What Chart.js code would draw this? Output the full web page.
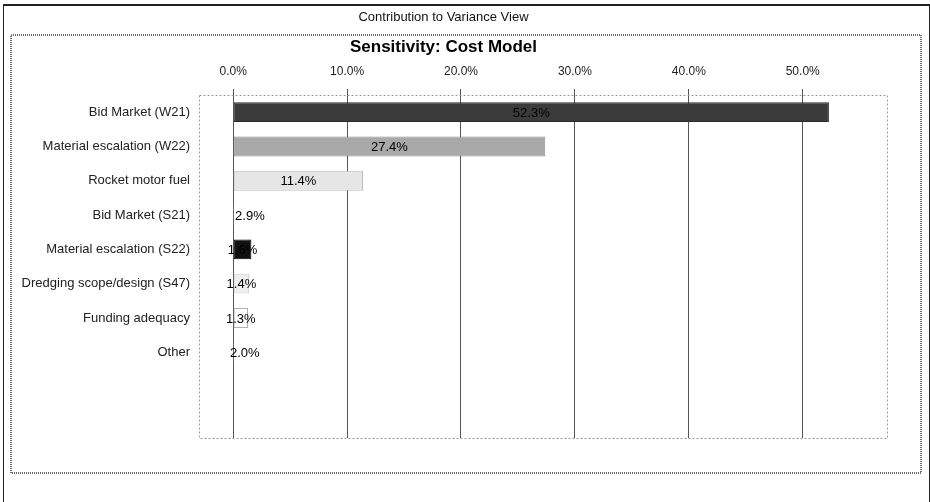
<!DOCTYPE html>
<html>
<head>
<meta charset="utf-8">
<script src="https://cdn.jsdelivr.net/npm/chart.js@4"></script>
<style>
  html, body { margin: 0; padding: 0; background: #fff; }
  #wrap { width: 930px; height: 502px; position: relative; }
</style>
</head>
<body>
<div id="wrap"><canvas id="sensChart"></canvas></div>
<script>
// data
const categories = [
  'Bid Market (W21)',
  'Material escalation (W22)',
  'Rocket motor fuel',
  'Bid Market (S21)',
  'Material escalation (S22)',
  'Dredging scope/design (S47)',
  'Funding adequacy',
  'Other'
];
const contribution = [52.3, 27.4, 11.4, 2.9, 1.6, 1.4, 1.3, 2.0];
const tickValues = [0, 10, 20, 30, 40, 50];
const emptyRows = ['', ''];   // the chart leaves two blank rows at the bottom

const barFill = ['#3b3b3b', '#a9a9a9', '#e6e6e6', '#ffffff', '#111111', '#eeeeee', '#ffffff', '#ffffff'];
const barEdge = ['#2a2a2a', '#8f8f8f', '#bdbdbd', '#ffffff', '#000000', '#d0d0d0', '#b0b0b0', '#ffffff'];

const FONT = '"Liberation Sans", Arial, sans-serif';

// frames, plot box and value labels
const decor = {
  id: 'decor',
  beforeDraw(chart) {
    const c = chart.ctx;
    c.save();
    c.fillStyle = '#fff';
    c.fillRect(0, 0, chart.width, chart.height);
    // outer window frame
    c.strokeStyle = '#222';
    c.lineWidth = 1;
    c.strokeRect(3.5, 5.5, 926, 520);
    c.beginPath(); c.moveTo(3, 5); c.lineTo(930, 5); c.lineWidth = 2; c.stroke();
    // inner dotted frame
    c.strokeStyle = '#6a6a6a';
    c.lineWidth = 2;
    c.setLineDash([1, 1]);
    c.strokeRect(11, 35, 910, 438);
    c.restore();
  },
  beforeDatasetsDraw(chart) {
    const a = chart.chartArea, c = chart.ctx;
    c.save();
    c.strokeStyle = '#9a9a9a';
    c.lineWidth = 1;
    c.setLineDash([2, 2]);
    c.strokeRect(a.left + 0.5, a.top + 0.5, a.right - a.left, a.bottom - a.top);
    c.restore();
  },
  afterDraw(chart) {
    const c = chart.ctx;
    const meta = chart.getDatasetMeta(0);
    c.save();
    c.font = '13px ' + FONT;
    c.fillStyle = '#000';
    c.textAlign = 'center';
    c.textBaseline = 'middle';
    meta.data.forEach((bar, i) => {
      const p = bar.getProps(['x', 'y', 'base'], true);
      c.fillText(contribution[i].toFixed(1) + '%', (p.x + p.base) / 2, p.y + 1);
    });
    c.restore();
  }
};

new Chart(document.getElementById('sensChart'), {
  type: 'bar',
  data: {
    labels: categories.concat(emptyRows),
    datasets: [{
      data: contribution,
      backgroundColor: barFill,
      borderColor: barEdge,
      borderWidth: 1,
      borderSkipped: false,
      barPercentage: 0.58,
      categoryPercentage: 1
    }]
  },
  options: {
    indexAxis: 'y',
    responsive: true,
    maintainAspectRatio: false,
    animation: false,
    layout: { padding: { left: 0, right: 43, top: 0, bottom: 64 } },
    plugins: {
      legend: { display: false },
      tooltip: { enabled: false },
      title: {
        display: true,
        text: 'Contribution to Variance View',
        color: '#111',
        font: { family: FONT, size: 13, weight: 'normal' },
        padding: { top: 10, bottom: 12 }
      },
      subtitle: {
        display: true,
        text: 'Sensitivity: Cost Model',
        color: '#000',
        font: { family: FONT, size: 17, weight: 'bold' },
        padding: { top: 0, bottom: 7 }
      }
    },
    scales: {
      x: {
        position: 'top',
        min: -3,
        max: 57.4,
        z: 1,
        afterBuildTicks: axis => { axis.ticks = tickValues.map(v => ({ value: v })); },
        afterFit: axis => { axis.height = 30; },
        ticks: {
          color: '#222',
          padding: 10,
          font: { family: FONT, size: 12 },
          callback: v => v.toFixed(1) + '%'
        },
        grid: { color: '#555', lineWidth: 1, drawTicks: true, tickLength: 6 },
        border: { display: false }
      },
      y: {
        afterFit: axis => { axis.width = 199; },
        ticks: {
          color: '#222',
          padding: 9,
          font: { family: FONT, size: 13 }
        },
        grid: { display: false, drawTicks: false },
        border: { display: false }
      }
    }
  },
  plugins: [decor]
});
</script>
</body>
</html>
